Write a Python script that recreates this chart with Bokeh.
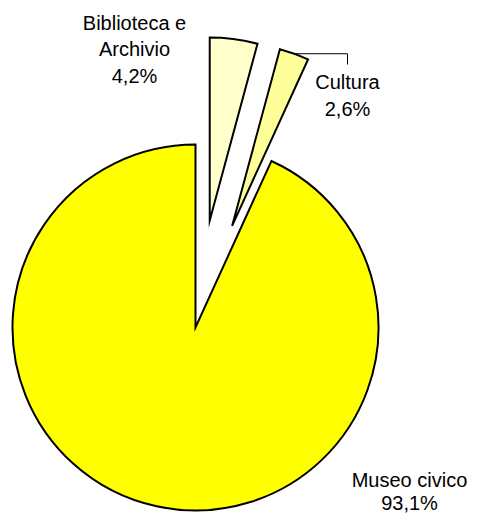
import math
from bokeh.plotting import figure
from bokeh.models import Range1d, ColumnDataSource
from bokeh.core.properties import value
from bokeh.embed import file_html
from bokeh.resources import INLINE

# ---- data (pie order: clockwise from 12 o'clock) ----
categories = ["Biblioteca e Archivio", "Cultura", "Museo civico"]
shares = [4.2, 2.6, 93.1]
name_lines = [["Biblioteca e", "Archivio"], ["Cultura"], ["Museo civico"]]

# ---- style / layout ----
colors = ["#FFFFCC", "#FFFF99", "#FFFF00"]
explode = [108, 108, 0]          # px offset along slice mid-angle
W, H = 469, 515
IMG_H = 523


def Y(img_y):
    return IMG_H - img_y


cx, cy, R = 195, Y(327), 183
label_anchor = [(134, 22), (347, 81), (409, 479)]   # first-line baseline (px)
line_steps = [26.5, 27, 23]

p = figure(width=W, height=H, x_range=Range1d(0, W), y_range=Range1d(Y(H), Y(0)),
           output_backend="svg", toolbar_location=None, min_border=0)
p.axis.visible = False
p.grid.visible = False
p.outline_line_color = None
p.background_fill_color = "white"
p.border_fill_color = "white"

total = sum(shares)
xs, ys, starts, ends, mids = [], [], [], [], []
a0 = 0.0
for v, d in zip(shares, explode):
    a1 = a0 + 360.0 * v / total
    mid = (a0 + a1) / 2
    xs.append(cx + d * math.sin(math.radians(mid)))
    ys.append(cy + d * math.cos(math.radians(mid)))
    starts.append(math.radians(90 - a1))
    ends.append(math.radians(90 - a0))
    mids.append(mid)
    a0 = a1

src = ColumnDataSource(dict(x=xs, y=ys, start=starts, end=ends, color=colors, cat=categories))
p.wedge(x="x", y="y", radius=R, start_angle="start", end_angle="end", source=src,
        fill_color="color", line_color="black", line_width=2, line_join="miter")

# leader line for Cultura
i = 1
lx = xs[i] + R * math.sin(math.radians(mids[i]))
ly = ys[i] + R * math.cos(math.radians(mids[i]))
p.line([lx, 347, 347], [ly, ly, Y(64)], line_color="black", line_width=1)

tx, ty, tt = [], [], []
for k, v in enumerate(shares):
    lines = name_lines[k] + [f"{v:.1f}".replace(".", ",") + "%"]
    ax, ay = label_anchor[k]
    for j, s in enumerate(lines):
        tx.append(ax)
        ty.append(Y(ay + j * line_steps[k]))
        tt.append(s)
p.text(x=tx, y=ty, text=tt, text_font=value("Liberation Sans"), text_font_size="20px",
       text_align="center", text_baseline="alphabetic", text_color="black")

open("out.html", "w").write(file_html(p, INLINE))
